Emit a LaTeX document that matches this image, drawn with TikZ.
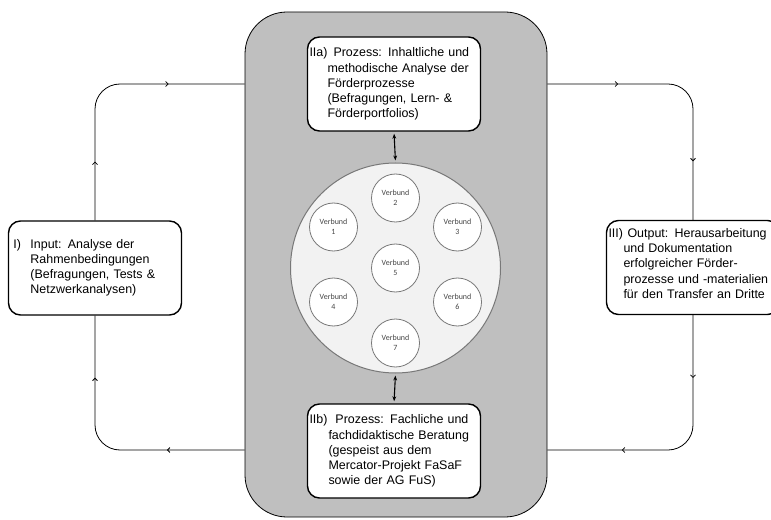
\documentclass[tikz,border=0pt]{standalone}
\usepackage{fontspec}
\setmainfont{Liberation Sans}
\newfontfamily\verbundfont{Carlito}
\usetikzlibrary{positioning, calc, arrows.meta, decorations.markings}

\definecolor{rahmengrau}{RGB}{191,191,191}
\definecolor{kreisgrau}{RGB}{242,242,242}
\definecolor{randgrau}{RGB}{120,120,120}
\definecolor{schriftgrau}{RGB}{70,70,70}

\tikzset{
  zentrum/.style={draw, line width=0.8bp, fill=rahmengrau, rounded corners=42bp, minimum width=302bp, minimum height=505bp},
  kasten/.style={draw, line width=1.4bp, fill=white, rounded corners=12bp, align=left, text width=169bp, inner xsep=2bp, minimum height=94bp, font=\fontsize{12.5}{15.2}\selectfont},
  kreis/.style={circle, draw=randgrau, line width=1bp, fill=kreisgrau, minimum size=210bp},
  verbund/.style={circle, draw=randgrau, line width=0.8bp, fill=white, minimum size=48bp, inner sep=0pt, align=center, text=schriftgrau, font=\verbundfont\fontsize{8}{10}\selectfont},
  kreislauf/.style={line width=0.8bp, rounded corners=25bp},
  pfeile/.style 2 args={postaction={decorate, decoration={markings,
    mark=at position #1 with {\arrow{Straight Barb[length=2.5bp, width=5bp]}},
    mark=at position #2 with {\arrow{Straight Barb[length=2.5bp, width=5bp]}}}}},
  doppelpfeil/.style={{Stealth[length=5bp]}-{Stealth[length=5bp]}, line width=1.1bp, shorten <=2bp, shorten >=2bp}
}

\begin{document}
\begin{tikzpicture}[x=1bp, y=-1bp]
\path[use as bounding box] (0,0) rectangle (771,520);

% Mitte
\node[zentrum] (mitte) at (396,264.5) {};
\node[kreis] (verbuende) at (395.5,268) {};
\foreach \nr/\px/\py in {1/333.5/227, 2/395.5/198, 3/457.5/227, 4/333.5/302, 5/395.5/268, 6/457.5/302, 7/395.5/343}
  \node[verbund] (v\nr) at (\px,\py) {Verbund\\\nr};

\node[kasten] (prozessA) at (394,84) {\makebox[24bp][l]{IIa)}Prozess: Inhaltliche und\\\hspace*{18bp}methodische Analyse der\\\hspace*{18bp}Förderprozesse\\\hspace*{18bp}(Befragungen, Lern- \&\\\hspace*{18bp}Förderportfolios)};
\node[kasten] (prozessB) at (394,451) {\makebox[26bp][l]{IIb)}Prozess: Fachliche und\\\hspace*{19bp}fachdidaktische Beratung\\\hspace*{19bp}(gespeist aus dem\\\hspace*{19bp}Mercator-Projekt FaSaF\\\hspace*{19bp}sowie der AG FuS)};

\draw[doppelpfeil] (prozessA.south) -- (verbuende.north);
\draw[doppelpfeil] (verbuende.south) -- (prozessB.north);

% Input / Output
\node[kasten] (input) at (95,268) {\hspace*{3bp}\makebox[17bp][l]{I)}Input: Analyse der\\\hspace*{20bp}Rahmenbedingungen\\\hspace*{20bp}(Befragungen, Tests \&\\\hspace*{20bp}Netzwerkanalysen)};
\node[kasten] (output) at (693,267.5) {\makebox[19bp][l]{III)}Output: Herausarbeitung\\\hspace*{15bp}und Dokumentation\\\hspace*{15bp}erfolgreicher Förder-\\\hspace*{15bp}\mbox{prozesse und -materialien}\\\hspace*{15bp}für den Transfer an Dritte\\[-7bp]\mbox{}};

\coordinate (lo) at (mitte.west |- 0,84);
\coordinate (lu) at (mitte.west |- 0,450);
\coordinate (ro) at (mitte.east |- 0,84);
\coordinate (ru) at (mitte.east |- 0,450);

\draw[kreislauf, pfeile={78pt}{212pt}] (lu) -| (input.south);
\draw[kreislauf, pfeile={59pt}{200pt}] (input.north) |- (lo);
\draw[kreislauf, pfeile={71pt}{213pt}] (ro) -| (output.north);
\draw[kreislauf, pfeile={63pt}{196pt}] (output.south) |- (ru);
\end{tikzpicture}
\end{document}
